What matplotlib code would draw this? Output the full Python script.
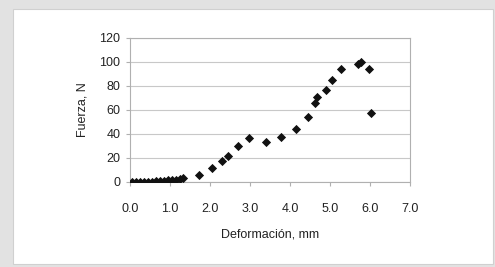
import matplotlib
matplotlib.use("Agg")
import matplotlib.pyplot as plt
from matplotlib.patches import Rectangle

deformacion = [0.05, 0.15, 0.25, 0.35, 0.45, 0.55, 0.65, 0.75, 0.85, 0.95, 1.05, 1.15, 1.25, 1.33,
               1.72, 2.04, 2.29, 2.46, 2.71, 2.98, 3.39, 3.78, 4.15, 4.45, 4.63, 4.68, 4.89,
               5.06, 5.28, 5.69, 5.78, 5.97, 6.02]
fuerza = [0.0, 0.0, 0.0, 0.0, 0.0, 0.3, 0.5, 0.8, 1.0, 1.3, 1.6, 2.0, 2.5, 3.0,
          5.6, 11.7, 17.6, 21.8, 29.9, 36.3, 33.0, 37.2, 43.8, 54.4, 65.6, 71.1, 76.7,
          85.1, 94.0, 98.5, 99.9, 94.0, 57.2]
xticks = [0, 1, 2, 3, 4, 5, 6, 7]
yticks = [0, 20, 40, 60, 80, 100, 120]

plt.rcParams['font.family'] = ['Liberation Sans', 'DejaVu Sans']
W, H = 495, 267
fig = plt.figure(figsize=(W/100, H/100), dpi=100)
fig.patch.set_facecolor('#e2e2e2')
fig.patches.append(Rectangle((13/W, 1-264/H), (493-13)/W, (264-9)/H,
                             transform=fig.transFigure, facecolor='white',
                             edgecolor='#d0d0d0', lw=0.8, zorder=-10))

ax = fig.add_axes([130/W, 1-182/H, 280/W, 144/H])
ax.set_zorder(5)
ax.set_facecolor('white')
ax.scatter(deformacion, fuerza, marker='D', s=22, color='#111111', zorder=3, linewidths=0)
ax.set_xlim(0, 7)
ax.set_ylim(0, 120)
ax.set_xticks(xticks)
ax.set_xticklabels([f"{v:.1f}" for v in xticks])
ax.set_yticks(yticks)
ax.yaxis.grid(True, color='#c8c8c8', lw=0.8)
ax.set_axisbelow(True)
for s in ax.spines.values():
    s.set_color('#b0b0b0')
    s.set_linewidth(0.8)
ax.tick_params(axis='both', colors='#b0b0b0', labelcolor='#222222', labelsize=9, length=3, width=0.8)
ax.tick_params(axis='x', pad=12)
ax.tick_params(axis='y', pad=4)
ax.set_xlabel('Deformación, mm', fontsize=9, color='#222222', labelpad=10)
ax.set_ylabel('Fuerza, N', fontsize=9, color='#222222', labelpad=8)
fig.savefig('out.png', dpi=100, facecolor=fig.get_facecolor())
